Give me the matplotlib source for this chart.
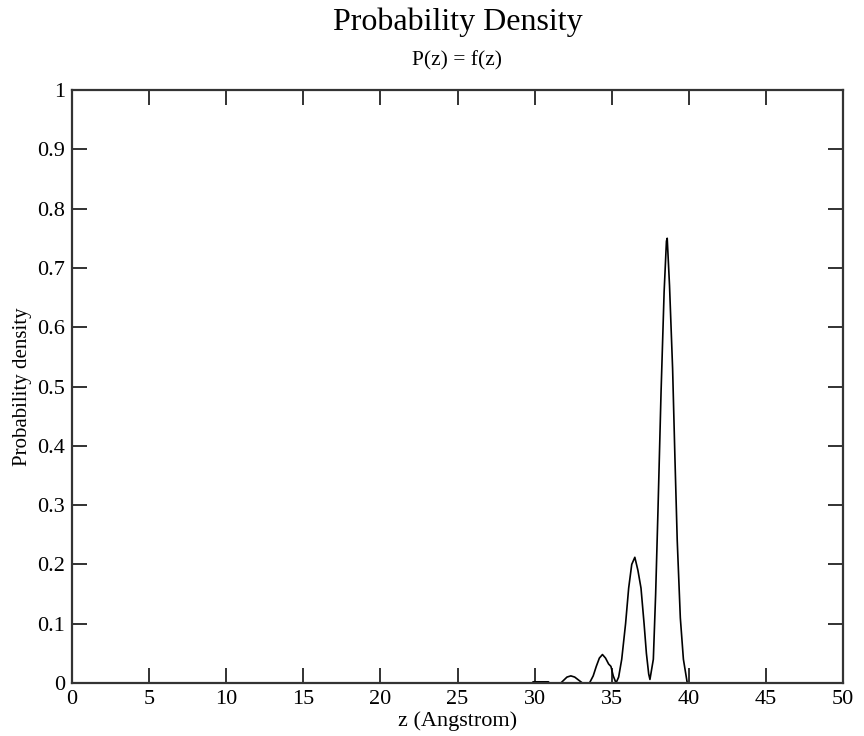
import matplotlib
matplotlib.use("Agg")
import matplotlib.pyplot as plt

# Probability density profile along z (Angstrom)
z = [0.0, 29.85, 29.9, 30.9, 30.95, 31.7, 31.9, 32.1, 32.35, 32.6, 32.85, 33.1,
     33.56, 33.8, 34.0, 34.2, 34.4, 34.6, 34.8, 34.95, 35.1, 35.28,
     35.45, 35.65, 35.9, 36.1, 36.3, 36.5, 36.7, 36.9, 37.1, 37.25, 37.4, 37.48,
     37.7, 37.85, 38.0, 38.2, 38.4, 38.55, 38.6, 38.75, 38.95, 39.1, 39.25,
     39.45, 39.65, 39.9, 50.0]
p = [0.0, 0.0, 0.002, 0.002, 0.0, 0.0, 0.005, 0.010, 0.012, 0.010, 0.005, 0.0,
     0.0, 0.012, 0.028, 0.042, 0.048, 0.042, 0.032, 0.028, 0.012, 0.0,
     0.010, 0.040, 0.100, 0.160, 0.200, 0.212, 0.190, 0.160, 0.100, 0.050, 0.015, 0.006,
     0.040, 0.150, 0.290, 0.490, 0.660, 0.745, 0.750, 0.670, 0.530, 0.380, 0.240,
     0.110, 0.040, 0.0, 0.0]

x_ticks = [0, 5, 10, 15, 20, 25, 30, 35, 40, 45, 50]
y_ticks = [0, 0.1, 0.2, 0.3, 0.4, 0.5, 0.6, 0.7, 0.8, 0.9, 1]
y_tick_labels = ["0", "0.1", "0.2", "0.3", "0.4", "0.5", "0.6", "0.7", "0.8", "0.9", "1"]

plt.rcParams["font.family"] = ["Liberation Serif", "DejaVu Serif"]

fig = plt.figure(figsize=(8.64, 7.36), dpi=100)
ax = fig.add_axes([72 / 864, 1 - 683 / 736, (843 - 72) / 864, (683 - 90) / 736])

ax.plot(z, p, color="black", linewidth=1.2)

ax.set_xlim(0, 50)
ax.set_ylim(0, 1)
ax.set_xticks(x_ticks)
ax.set_xticklabels([str(t) for t in x_ticks])
ax.set_yticks(y_ticks)
ax.set_yticklabels(y_tick_labels)

ax.tick_params(axis="both", which="major", direction="in", length=11, width=1.3,
               labelsize=16, color="#222222", top=True, right=True, pad=5)
for side in ax.spines.values():
    side.set_linewidth(1.6)
    side.set_color("#333333")

ax.set_xlabel("z (Angstrom)", fontsize=16, labelpad=2)
ax.set_ylabel("Probability density", fontsize=15, labelpad=4)

cx = (72 + 843) / 2 / 864
fig.text(cx, 1 - 22 / 736, "Probability Density", ha="center", va="center", fontsize=23)
fig.text(cx, 1 - 61 / 736, "P(z) = f(z)", ha="center", va="center", fontsize=15.5)

fig.savefig("out.png", dpi=100)
